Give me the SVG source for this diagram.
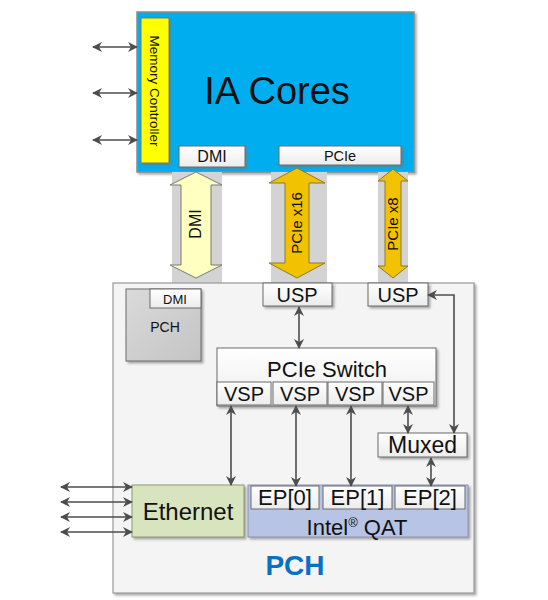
<svg xmlns="http://www.w3.org/2000/svg" width="548" height="600" viewBox="0 0 548 600">
<defs>
<style>
text{font-family:"Liberation Sans","Arial",sans-serif;fill:#111;}
.box{fill:url(#wg);stroke:#6a6a6a;stroke-width:1;}
.conn{stroke:#4d4d4d;stroke-width:1.6;fill:none;}
.bg{fill:#d3d3d3;}
</style>
<linearGradient id="wg" x1="0" y1="0" x2="0" y2="1"><stop offset="0" stop-color="#ffffff"/><stop offset="1" stop-color="#ececec"/></linearGradient>
<linearGradient id="gg" x1="0" y1="0" x2="1" y2="1"><stop offset="0" stop-color="#dadada"/><stop offset="1" stop-color="#c4c4c4"/></linearGradient>
<filter id="sh" x="-10%" y="-10%" width="130%" height="130%"><feDropShadow dx="2" dy="2" stdDeviation="1" flood-color="#777" flood-opacity="0.6"/></filter>
<marker id="ah" viewBox="0 0 10 10" refX="9" refY="5" markerWidth="10" markerHeight="10" markerUnits="userSpaceOnUse" orient="auto-start-reverse"><path d="M0,0 L10,5 L0,10 L3,5 Z" fill="#4d4d4d"/></marker>
</defs>

<g id="ia-cores">
<rect x="137" y="12" width="277" height="160" fill="#00aeef" stroke="#8a8a8a" stroke-width="1.5" filter="url(#sh)"/>
<text x="277" y="104" font-size="38" text-anchor="middle">IA Cores</text>
</g>
<g id="memory-controller">
<rect x="141" y="18" width="28" height="145" fill="#ffff00" stroke="#777" stroke-width="1" filter="url(#sh)"/>
<text transform="translate(150,91) rotate(90)" font-size="13.5" text-anchor="middle">Memory Controller</text>
</g>
<g id="cpu-dmi">
<rect x="179" y="146" width="66" height="21" class="box" filter="url(#sh)"/>
<text x="212" y="162" font-size="16" text-anchor="middle">DMI</text>
</g>
<g id="cpu-pcie">
<rect x="279" y="146" width="122" height="19" class="box" filter="url(#sh)"/>
<text x="340" y="161" font-size="14.5" text-anchor="middle">PCIe</text>
</g>

<g id="link-dmi">
<rect x="172" y="172" width="50" height="111" class="bg"/>
<polygon points="196,172 222,185 211,185 211,265 222,265 196,278 170,265 181,265 181,185 170,185" fill="#ffffc0" stroke="#7a7a7a" stroke-width="1"/>
<text transform="translate(201,224) rotate(-90)" font-size="16" text-anchor="middle">DMI</text>
</g>
<g id="link-pcie-x16">
<rect x="271" y="172" width="56" height="111" class="bg"/>
<polygon points="297,168 325,183 309,183 309,263 325,263 297,278 269,263 285,263 285,183 269,183" fill="#f2c200" stroke="#8a7a30" stroke-width="1"/>
<text transform="translate(302,223) rotate(-90)" font-size="15" text-anchor="middle">PCIe x16</text>
</g>
<g id="link-pcie-x8">
<rect x="378" y="172" width="30" height="111" class="bg"/>
<polygon points="393,169 408,181 401,181 401,266 408,266 393,278 378,266 385,266 385,181 378,181" fill="#f2c200" stroke="#8a7a30" stroke-width="1"/>
<text transform="translate(398,224) rotate(-90)" font-size="15" text-anchor="middle">PCIe x8</text>
</g>

<g id="pch">
<rect x="113" y="283" width="361" height="310" fill="#f4f4f4" stroke="#9a9a9a" stroke-width="1.2" filter="url(#sh)"/>
<text x="295" y="575" font-size="28" font-weight="bold" text-anchor="middle" style="fill:#0a70c0">PCH</text>
</g>
<g id="pch-small">
<rect x="126" y="289" width="75" height="72" fill="url(#gg)" stroke="#6a6a6a" stroke-width="1" filter="url(#sh)"/>
<text x="165" y="332" font-size="14" text-anchor="middle">PCH</text>
</g>
<g id="pch-dmi">
<rect x="150" y="289" width="51" height="19" class="box"/>
<text x="175" y="304" font-size="13" text-anchor="middle">DMI</text>
</g>
<g id="usp1">
<rect x="263" y="283" width="69" height="23" class="box" filter="url(#sh)"/>
<text x="297" y="302" font-size="20" text-anchor="middle">USP</text>
</g>
<g id="usp2">
<rect x="368" y="283" width="60" height="23" class="box" filter="url(#sh)"/>
<text x="398" y="302" font-size="20" text-anchor="middle">USP</text>
</g>
<g id="pcie-switch">
<rect x="217" y="348" width="219" height="58" class="box" filter="url(#sh)"/>
<text x="327" y="377" font-size="22" text-anchor="middle">PCIe Switch</text>
</g>
<g id="vsp0"><rect x="217" y="382" width="54" height="23" class="box"/><text x="244" y="401" font-size="20" text-anchor="middle">VSP</text></g>
<g id="vsp1"><rect x="273" y="382" width="54" height="23" class="box"/><text x="300" y="401" font-size="20" text-anchor="middle">VSP</text></g>
<g id="vsp2"><rect x="328" y="382" width="54" height="23" class="box"/><text x="355" y="401" font-size="20" text-anchor="middle">VSP</text></g>
<g id="vsp3"><rect x="383" y="382" width="51" height="23" class="box"/><text x="408.5" y="401" font-size="20" text-anchor="middle">VSP</text></g>
<g id="muxed">
<rect x="378" y="433" width="89" height="24" class="box" filter="url(#sh)"/>
<text x="422.5" y="453" font-size="23" text-anchor="middle">Muxed</text>
</g>
<g id="ethernet">
<rect x="132" y="485" width="112" height="52" fill="#d7e4bd" stroke="#8a9a70" stroke-width="1" filter="url(#sh)"/>
<text x="188" y="520" font-size="24" text-anchor="middle">Ethernet</text>
</g>
<g id="qat">
<rect x="248" y="485" width="220" height="52" fill="#b8c4e6" stroke="#8a92b0" stroke-width="1" filter="url(#sh)"/>
<text x="357" y="535" font-size="22" text-anchor="middle">Intel<tspan font-size="13" baseline-shift="60%">®</tspan> QAT</text>
</g>
<g id="ep0"><rect x="251" y="486" width="68" height="23" class="box"/><text x="285" y="505" font-size="22" text-anchor="middle">EP[0]</text></g>
<g id="ep1"><rect x="323" y="486" width="69" height="23" class="box"/><text x="357.5" y="505" font-size="22" text-anchor="middle">EP[1]</text></g>
<g id="ep2"><rect x="395" y="486" width="70" height="23" class="box"/><text x="430" y="505" font-size="22" text-anchor="middle">EP[2]</text></g>

<g id="connectors">
<line class="conn" x1="93" y1="47" x2="137" y2="47" marker-start="url(#ah)" marker-end="url(#ah)"/>
<line class="conn" x1="93" y1="93" x2="137" y2="93" marker-start="url(#ah)" marker-end="url(#ah)"/>
<line class="conn" x1="93" y1="140" x2="137" y2="140" marker-start="url(#ah)" marker-end="url(#ah)"/>
<line class="conn" x1="299" y1="307" x2="299" y2="348" marker-start="url(#ah)" marker-end="url(#ah)"/>
<line class="conn" x1="231" y1="406" x2="231" y2="485" marker-start="url(#ah)" marker-end="url(#ah)"/>
<line class="conn" x1="296" y1="406" x2="296" y2="486" marker-start="url(#ah)" marker-end="url(#ah)"/>
<line class="conn" x1="351" y1="406" x2="351" y2="486" marker-start="url(#ah)" marker-end="url(#ah)"/>
<line class="conn" x1="408" y1="406" x2="408" y2="433" marker-start="url(#ah)" marker-end="url(#ah)"/>
<line class="conn" x1="431" y1="458" x2="431" y2="486" marker-start="url(#ah)" marker-end="url(#ah)"/>
<polyline class="conn" points="428,295 454,295 454,433" marker-start="url(#ah)" marker-end="url(#ah)"/>
<line class="conn" x1="61" y1="487" x2="132" y2="487" marker-start="url(#ah)" marker-end="url(#ah)"/>
<line class="conn" x1="61" y1="502" x2="132" y2="502" marker-start="url(#ah)" marker-end="url(#ah)"/>
<line class="conn" x1="61" y1="517" x2="132" y2="517" marker-start="url(#ah)" marker-end="url(#ah)"/>
<line class="conn" x1="61" y1="532" x2="132" y2="532" marker-start="url(#ah)" marker-end="url(#ah)"/>
</g>
</svg>
